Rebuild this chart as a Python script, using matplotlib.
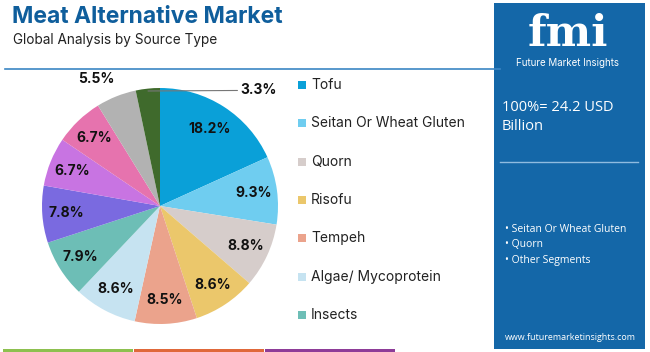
import numpy as np
import matplotlib
matplotlib.use("Agg")
from matplotlib import pyplot as plt
from matplotlib.patches import Rectangle

# data
segments = ['Tofu', 'Seitan Or Wheat Gluten', 'Quorn', 'Risofu', 'Tempeh',
            'Algae/ Mycoprotein', 'Insects', 'Other 1', 'Other 2', 'Other 3',
            'Other 4', 'Other 5']
shares = [18.2, 9.3, 8.8, 8.6, 8.5, 8.6, 7.9, 7.8, 6.7, 6.7, 5.5, 3.3]
colors = ['#0aa0d8', '#6fcdf0', '#d6cdcb', '#ebc76b', '#eba38c', '#c6e3f1',
          '#6dbeb6', '#7a6ae0', '#c874e2', '#e673ae', '#b2b2b2', '#3f6a2c']
legend_items = segments[:7]
outside = [10, 11]   # slices labelled outside the pie
panel_bullets = ['Seitan Or Wheat Gluten', 'Quorn', 'Other Segments']
total_text = '100%= 24.2 USD\nBillion'

plt.rcParams['font.family'] = ['Inter', 'DejaVu Sans']

W, H = 650, 352
fig = plt.figure(figsize=(W / 100, H / 100), dpi=100)
fig.patch.set_facecolor('white')

def fx(px):
    return px / W

def fy(py):
    return 1 - py / H

# header
fig.text(fx(12), fy(17), 'Meat Alternative Market', fontsize=16.5, fontweight='bold',
         color='#0f5e9c', va='center', ha='left')
fig.text(fx(13), fy(40), 'Global Analysis by Source Type', fontsize=9.8, color='#222222',
         va='center', ha='left')
fig.add_artist(plt.Line2D([fx(5), fx(500)], [fy(69), fy(69)], color='#3b86c4', lw=1.2))

# bottom colour strips
for x0, x1, c in [(3, 133, '#8dc04f'), (134, 264, '#e0683a'), (265, 395, '#8e3c98')]:
    fig.add_artist(Rectangle((fx(x0), 0), fx(x1 - x0), 3.5 / H, color=c, lw=0))

# pie
cx, cy, r = 160, 206, 118
ax = fig.add_axes([fx(cx - r), fy(cy + r), fx(2 * r), 2 * r / H])
wedges, _ = ax.pie(shares, colors=colors, startangle=90, counterclock=False,
                   radius=1, wedgeprops=dict(linewidth=0))
ax.set_xlim(-1, 1)
ax.set_ylim(-1, 1)
ax.axis('off')

for i, w in enumerate(wedges):
    ang = np.deg2rad((w.theta1 + w.theta2) / 2)
    if i in outside:
        continue
    d = 0.78 if i == 0 else 0.8
    ax.text(d * np.cos(ang), d * np.sin(ang), f'{shares[i]}%', ha='center', va='center',
            fontsize=10, fontweight='bold', color='#111111')

# 5.5% label above its slice
w = wedges[10]
ang = np.deg2rad((w.theta1 + w.theta2) / 2)
ax.text(1.16 * np.cos(ang) - 0.11, 1.16 * np.sin(ang), f'{shares[10]}%', ha='center',
        va='center', fontsize=10, fontweight='bold', color='#111111')
# 3.3% label with leader line
w = wedges[11]
ang = np.deg2rad((w.theta1 + w.theta2) / 2)
ax.annotate(f'{shares[11]}%', xy=(0.98 * np.cos(ang), 0.98 * np.sin(ang)),
            xytext=(0.68, 0.98), ha='left', va='center', fontsize=10,
            fontweight='bold', color='#111111',
            arrowprops=dict(arrowstyle='-', color='#777777', lw=0.8,
                            shrinkA=0, shrinkB=0))

# legend
for k, name in enumerate(legend_items):
    y = 85 + k * 38.3
    fig.add_artist(Rectangle((fx(298), fy(y + 4)), fx(8), 8 / H, color=colors[k], lw=0))
    fig.text(fx(311), fy(y), name, fontsize=10, color='#222222', va='center', ha='left')

# right panel
fig.add_artist(Rectangle((fx(494), fy(349)), fx(151), 346 / H, color='#1467a8', lw=0))
fig.text(fx(568), fy(46), 'fmi', fontsize=31, fontweight='bold', color='white',
         ha='center', va='baseline', family=['DejaVu Serif'])
fig.text(fx(568), fy(63), 'Future Market Insights', fontsize=7, color='white',
         ha='center', va='center')
fig.text(fx(502), fy(117), total_text, fontsize=10.5, color='white', ha='left',
         va='center', linespacing=1.4, family=['Open Sans', 'DejaVu Sans'])
fig.add_artist(plt.Line2D([fx(500), fx(638)], [fy(162), fy(162)], color='#8fbbe0', lw=1))
for k, b in enumerate(panel_bullets):
    fig.text(fx(505), fy(229 + k * 15.5), '\u2022 ' + b, fontsize=7.5, color='white',
             ha='left', va='center', family=['Open Sans', 'DejaVu Sans'])
fig.text(fx(570), fy(337), 'www.futuremarketinsights.com', fontsize=6.4, color='white',
         ha='center', va='center', family=['Open Sans', 'DejaVu Sans'])

fig.savefig('out.png', dpi=100, facecolor='white')
